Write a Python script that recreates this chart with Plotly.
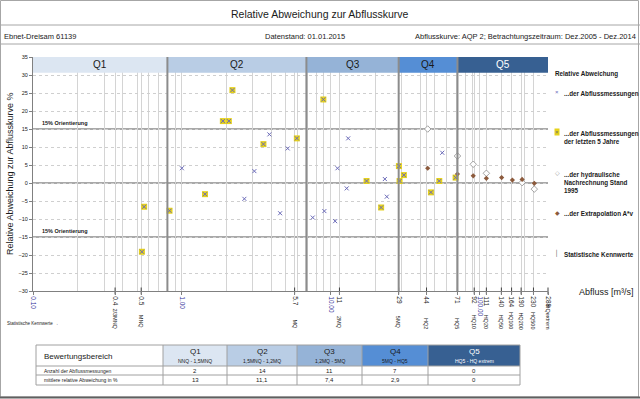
import numpy as np
import plotly.graph_objects as go

# ---------------- data ----------------
KW_NAMES = ["2/3MNQ", "MNQ", "MQ", "2MQ", "5MQ", "HQ2", "HQ5", "HQ10", "HQ20",
            "HQ50", "HQ100", "HQ200", "HQ500", "HQextrem"]
KW_VALUES = [0.356, 0.533, 5.72, 11.44, 28.6, 44, 71, 92, 111, 140, 164, 190, 230, 288]
KW_LABELS = ["0.4", "0.5", "5.7", "11", "29", "44", "71", "92", "111", "140", "164",
             "190", "230", "288"]
DECADES = [0.1, 1, 10, 100]
DECADE_LABELS = ["0.10", "1.00", "10.00", "100.00"]

# measurements (older)
MESS_Q = [1.0, 2.63, 3.07, 3.87, 4.57, 5.14, 7.57, 9.06, 10.7, 11.1, 12.8, 13.1,
          23.1, 23.8, 56.1]
MESS_DEV = [4.1, -4.4, 3.3, 13.5, -8.4, 9.6, -9.6, -7.8, -10.6, 4.1, -1.5, 12.4,
            1.1, -3.8, 8.4]
# measurements of the last 5 years
RECENT_Q = [0.539, 0.558, 0.826, 1.43, 1.885, 2.068, 2.186, 3.53, 5.92, 8.92, 17.4,
            21.8, 28.7, 29.0, 31.0, 47.1, 53.6, 69.0]
RECENT_DEV = [-19.1, -6.6, -7.7, -3.1, 17.2, 17.2, 25.8, 10.8, 12.4, 23.2, 0.55,
              -6.8, 4.7, 0.55, 2.2, -2.6, 0.55, 1.5]
# hydraulische Nachrechnung Stand 1995
HYD_Q = [44.8, 71, 90.6, 111, 193, 233]
HYD_DEV = [15.0, 7.5, 5.2, 2.7, 0.1, -1.7]
# Extrapolation A*v
EXT_Q = [44.8, 71, 90.6, 111, 140.6, 166, 193, 233]
EXT_DEV = [4.1, 2.5, 2.0, 1.3, 1.5, 0.8, 1.0, -0.1]

Q_NAMES = ["Q1", "Q2", "Q3", "Q4", "Q5"]
Q_RANGES = ["NNQ - 1,5MNQ", "1,5MNQ - 1,2MQ", "1,2MQ - 5MQ", "5MQ - HQ5", "HQ5 - HQ extrem"]
Q_COUNT = ["2", "14", "11", "7", "0"]
Q_MEAN = ["13", "11,1", "7,4", "2,9", "0"]
Q_COLORS = ["#dce6f2", "#b9cde5", "#95b3d7", "#558ed5", "#376092"]
Q_TEXT_COLORS = ["#1a1a1a", "#1a1a1a", "#1a1a1a", "#1a1a1a", "#ffffff"]

MNQ, MQ, HQ5, HQX = KW_VALUES[1], KW_VALUES[2], KW_VALUES[6], KW_VALUES[-1]
Q_BOUNDS = [0.1, 1.5 * MNQ, 1.2 * MQ, 5 * MQ, HQ5, HQX]

# ---------------- layout helpers ----------------
W, H = 640, 399
L, R, T, B = 33, 548, 57, 291
FONT = "Arial, Liberation Sans, sans-serif"
INK = "#1a1a1a"


def px(xp):
    return (xp - L) / (R - L)


def py(yp):
    return (B - yp) / (B - T)


ann = []
shapes = []


def text(x, y, s, size, color=INK, xanchor="center", yanchor="middle", xref="paper",
         yref="paper", **kw):
    d = dict(x=x, y=y, xref=xref, yref=yref, text=s, showarrow=False, xanchor=xanchor,
             yanchor=yanchor, font=dict(size=size, color=color, family=FONT))
    d.update(kw)
    ann.append(d)


fig = go.Figure()

# ---------------- traces ----------------
fig.add_trace(go.Scatter(x=RECENT_Q, y=RECENT_DEV, mode="markers",
                         marker=dict(symbol="square", size=6, color="#e6d21a",
                                     line=dict(width=0)),
                         showlegend=False, hoverinfo="skip"))
fig.add_trace(go.Scatter(x=MESS_Q + RECENT_Q, y=MESS_DEV + RECENT_DEV, mode="markers",
                         marker=dict(symbol="x-thin", size=4, color="#6a6ab8",
                                     line=dict(width=1, color="#6a6ab8")),
                         showlegend=False, hoverinfo="skip"))
fig.add_trace(go.Scatter(x=HYD_Q, y=HYD_DEV, mode="markers",
                         marker=dict(symbol="diamond", size=5, color="white",
                                     line=dict(width=0.8, color="#8c8c8c")),
                         showlegend=False, hoverinfo="skip"))
fig.add_trace(go.Scatter(x=EXT_Q, y=EXT_DEV, mode="markers",
                         marker=dict(symbol="diamond", size=4, color="#8c5a3c",
                                     line=dict(width=0)),
                         showlegend=False, hoverinfo="skip"))
fig.add_trace(go.Scatter(x=KW_VALUES, y=[-30] * len(KW_VALUES), mode="markers",
                         marker=dict(symbol="line-ns", size=5,
                                     line=dict(width=1, color="#404040")),
                         cliponaxis=False, showlegend=False, hoverinfo="skip"))

# ---------------- axes ----------------
tickvals = DECADES + KW_VALUES
ticktext = ["<span style='color:#33339a'>%s</span>" % t for t in DECADE_LABELS] + KW_LABELS

fig.update_xaxes(type="log", range=[np.log10(0.1), np.log10(HQX)],
                 tickvals=tickvals, ticktext=ticktext, tickangle=90,
                 tickfont=dict(size=6.5, color=INK, family=FONT),
                 ticks="outside", ticklen=3, tickcolor="#808080",
                 showline=True, linecolor="#808080", linewidth=1,
                 showgrid=True, gridcolor="#d4d4d4", gridwidth=1,
                 minor=dict(dtick="D1", showgrid=True, gridcolor="#d4d4d4", ticks=""),
                 zeroline=False, fixedrange=True)
fig.update_yaxes(range=[-30, 35], dtick=5, tick0=0,
                 tickfont=dict(size=5.5, color=INK, family=FONT),
                 ticks="outside", ticklen=3, tickcolor="#808080",
                 showline=True, linecolor="#808080", linewidth=1,
                 showgrid=True, gridcolor="#cfcfcf", griddash="dot",
                 zeroline=False, fixedrange=True)

# Q bands at top
for i in range(5):
    shapes.append(dict(type="rect", xref="x", yref="y", x0=Q_BOUNDS[i], x1=Q_BOUNDS[i + 1],
                       y0=30.6, y1=35, fillcolor=Q_COLORS[i], line=dict(width=0),
                       layer="above"))
    xm = (np.log10(Q_BOUNDS[i]) + np.log10(Q_BOUNDS[i + 1])) / 2
    text(xm, 32.8, Q_NAMES[i], 10, Q_TEXT_COLORS[i], xref="x", yref="y")
# boundary lines
for b in Q_BOUNDS[1:-1]:
    shapes.append(dict(type="line", xref="x", yref="y", x0=b, x1=b, y0=-30, y1=35,
                       line=dict(color="#8c8c8c", width=2), layer="above"))
# orientation lines and zero line
for yv in [15, 0, -15]:
    shapes.append(dict(type="line", xref="paper", yref="y", x0=0, x1=1, y0=yv, y1=yv,
                       line=dict(color="#8c8c8c", width=1.5), layer="below"))
for yv in [15, -15]:
    text(px(40), yv, "<b>15% Orientierung</b>", 5.5, xanchor="left", yanchor="bottom",
         yref="y", yshift=1)

# Kennwerte labels
for v, n in zip(KW_VALUES, KW_NAMES):
    text(np.log10(v), py(331), n, 5.5, xref="x", yanchor="bottom", textangle=90)
text(px(5), py(323), "Statistische Kennwerte \u2192", 4.5, xanchor="left")
text(px(577), py(292), "Abfluss [m\u00b3/s]", 9, xanchor="left")
text(px(10), py(174), "Relative Abweichung zur Abflusskurve %", 9, textangle=-90)

# ---------------- header ----------------
text(px(320), py(14), "Relative Abweichung zur Abflusskurve", 10.5)
text(px(2), py(36), "Ebnet-Dreisam 61139", 7.5, xanchor="left")
text(px(305), py(36), "Datenstand: 01.01.2015", 7.5)
text(px(638), py(36), "Abflusskurve: AQP 2; Betrachtungszeitraum: Dez.2005 - Dez.2014", 7.5,
     xanchor="right")
frame = "#a6a6a6"
for yl in [25, 44]:
    shapes.append(dict(type="line", xref="paper", yref="paper", x0=px(0), x1=px(640),
                       y0=py(yl), y1=py(yl), line=dict(color=frame, width=1)))
shapes.append(dict(type="rect", xref="paper", yref="paper", x0=px(0.5), x1=px(638.5),
                   y0=py(0.5), y1=py(397), line=dict(color=frame, width=1)))
shapes.append(dict(type="line", xref="paper", yref="paper", x0=px(0), x1=px(640),
                   y0=py(397.5), y1=py(397.5), line=dict(color="#606060", width=2)))

# ---------------- legend (manual) ----------------
text(px(553), py(74), "<b>Relative Abweichung</b>", 6.3, xanchor="left")
leg_items = [
    (92, "\u00d7", "#6a6ab8", None, "...der Abflussmessungen"),
    (132, "\u00d7", "#707070", "#e6d21a", "...der Abflussmessungen<br>der letzten 5 Jahre"),
    (173, "\u25c7", "#8c8c8c", None, "...der hydraulische<br>Nachrechnung Stand<br>1995"),
    (213, "\u25c6", "#8c5a3c", None, "...der Extrapolation A*v"),
    (253, "\u2502", "#404040", None, "Statistische Kennwerte"),
]
for yy, sym, col, bg, txt in leg_items:
    extra = dict(borderpad=0)
    if bg:
        extra["bgcolor"] = bg
    text(px(557), py(yy), sym, 6, col, **extra)
    text(px(562), py(yy - 4.5), "<b>%s</b>" % txt, 6.3, xanchor="left", yanchor="top",
         align="left")

# ---------------- table ----------------
COLX = [36, 163, 227, 297, 362, 428, 520]
ROWY = [345, 366, 375, 385]
grid = "#a0a0a0"
for i in range(5):
    shapes.append(dict(type="rect", xref="paper", yref="paper", x0=px(COLX[i + 1]),
                       x1=px(COLX[i + 2]), y0=py(ROWY[0]), y1=py(ROWY[1]),
                       fillcolor=Q_COLORS[i], line=dict(width=0)))
for yl in ROWY:
    shapes.append(dict(type="line", xref="paper", yref="paper", x0=px(COLX[0]), x1=px(COLX[-1]),
                       y0=py(yl), y1=py(yl), line=dict(color=grid, width=1)))
for xl in COLX:
    shapes.append(dict(type="line", xref="paper", yref="paper", x0=px(xl), x1=px(xl),
                       y0=py(ROWY[0]), y1=py(ROWY[-1]), line=dict(color=grid, width=1)))
text(px(42), py(356), "Bewertungsbereich", 8, xanchor="left")
text(px(42), py(370.5), "Anzahl der Abflussmessungen", 5, xanchor="left")
text(px(42), py(380), "mittlere relative Abweichung in %", 5, xanchor="left")
for i in range(5):
    xc = px((COLX[i + 1] + COLX[i + 2]) / 2)
    text(xc, py(351), Q_NAMES[i], 8, Q_TEXT_COLORS[i])
    text(xc, py(361), Q_RANGES[i], 5, Q_TEXT_COLORS[i])
    text(xc, py(370.5), Q_COUNT[i], 6)
    text(xc, py(380), Q_MEAN[i], 6)

fig.update_layout(width=W, height=H, margin=dict(l=L, r=W - R, t=T, b=H - B),
                  paper_bgcolor="white", plot_bgcolor="white",
                  shapes=shapes, annotations=ann, showlegend=False,
                  font=dict(family=FONT))
fig.write_html("out.html", config={"displayModeBar": False, "staticPlot": True},
               post_script="document.body.style.margin='0';document.body.style.overflow='hidden';")
